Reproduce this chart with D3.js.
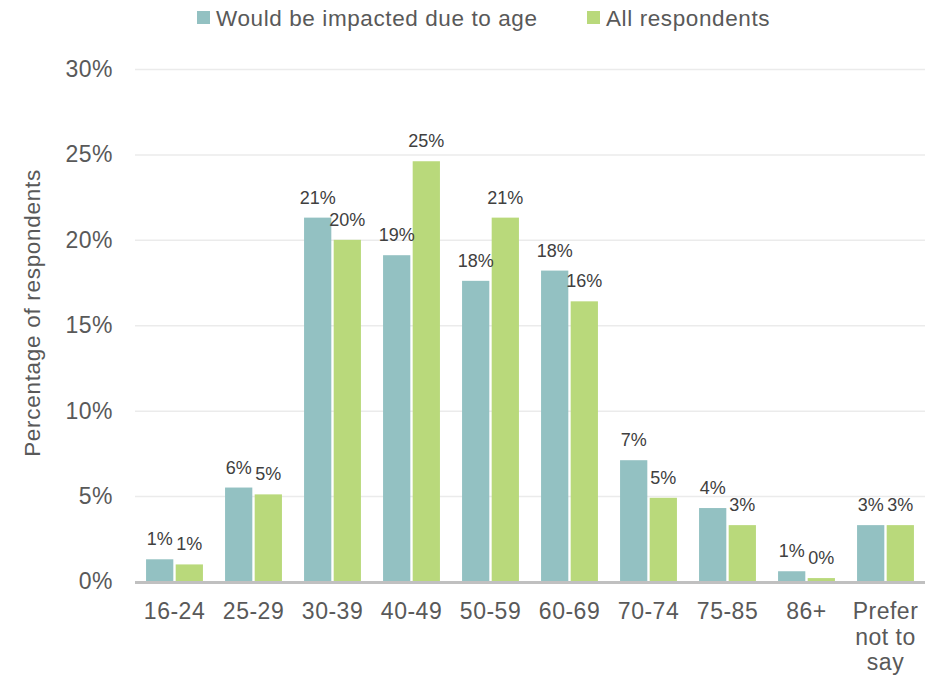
<!DOCTYPE html>
<html>
<head>
    <meta charset="utf-8">
    <script src="https://d3js.org/d3.v7.min.js"></script>
    <style>
        body { margin: 0; background: #fff; }
        text { font-family: "Liberation Sans", Arial, sans-serif; }
    </style>
</head>
<body>
    <svg id="chart"></svg>

    <script>
        // Chart values (percent of respondents)
        const categories = ["16-24", "25-29", "30-39", "40-49", "50-59", "60-69", "70-74", "75-85", "86+", "Prefer not to say"];
        const impacted = [1.3, 5.5, 21.3, 19.1, 17.6, 18.2, 7.1, 4.3, 0.6, 3.3];
        const allRespondents = [1.0, 5.1, 20.0, 24.6, 21.3, 16.4, 4.9, 3.3, 0.2, 3.3];
        const seriesNames = ["Would be impacted due to age", "All respondents"];
        const yTicks = [0, 5, 10, 15, 20, 25, 30];

        const width = 941, height = 678;
        const margin = { top: 69, right: 16, bottom: 96, left: 135 };
        const colors = ["#93c1c2", "#b9d97b"];

        const svg = d3.select("#chart")
            .attr("width", width)
            .attr("height", height);

        const series = [impacted, allRespondents];
        const data = categories.map((c, i) => ({ cat: c, values: series.map(s => s[i]) }));

        // Scales
        const x0 = d3.scaleBand()
            .domain(categories)
            .range([margin.left, width - margin.right])
            .paddingInner(0.28)
            .paddingOuter(0.14);

        const x1 = d3.scaleBand()
            .domain([0, 1])
            .range([0, x0.bandwidth()])
            .paddingInner(0.08);

        const y = d3.scaleLinear()
            .domain([0, 30])
            .range([height - margin.bottom - 0.5, margin.top]);

        // Gridlines + y tick labels
        const yAxis = svg.append("g")
            .attr("transform", `translate(${margin.left},0)`)
            .call(d3.axisLeft(y)
                .tickValues(yTicks)
                .tickSize(-(width - margin.left - margin.right))
                .tickFormat(d => d + "%")
                .tickPadding(22));
        yAxis.select(".domain").remove();
        yAxis.selectAll(".tick line").attr("stroke", "#ebebeb").attr("stroke-width", 1.5);
        yAxis.selectAll(".tick text")
            .attr("fill", "#595959")
            .style("font-size", "23px")
            .style("letter-spacing", "0.5px");

        // Y axis title
        svg.append("text")
            .attr("transform", `translate(40, 313) rotate(-90)`)
            .attr("text-anchor", "middle")
            .attr("fill", "#595959")
            .style("font-size", "22.5px")
            .style("letter-spacing", "0.7px")
            .text("Percentage of respondents");

        // Bars
        const groups = svg.append("g")
            .selectAll("g")
            .data(data)
            .join("g")
            .attr("transform", d => `translate(${x0(d.cat)},0)`);

        groups.selectAll("rect")
            .data(d => d.values.map((v, k) => ({ k, v })))
            .join("rect")
            .attr("x", d => x1(d.k))
            .attr("y", d => y(d.v))
            .attr("width", x1.bandwidth())
            .attr("height", d => y(0) - y(d.v))
            .attr("fill", d => colors[d.k]);

        // Value labels
        groups.selectAll("text.val")
            .data(d => d.values.map((v, k) => ({ k, v })))
            .join("text")
            .attr("class", "val")
            .attr("x", d => x1(d.k) + x1.bandwidth() / 2)
            .attr("y", d => y(d.v) - 14)
            .attr("text-anchor", "middle")
            .attr("fill", "#404040")
            .style("font-size", "18px")
            .text(d => Math.round(d.v) + "%");

        // X axis baseline
        svg.append("line")
            .attr("x1", margin.left)
            .attr("x2", width - margin.right)
            .attr("y1", y(0) + 1)
            .attr("y2", y(0) + 1)
            .attr("stroke", "#c0c0c0")
            .attr("stroke-width", 3);

        // Category labels, wrapped like the original
        const wrap = { "Prefer not to say": ["Prefer", "not to", "say"] };
        const xAxis = svg.append("g")
            .attr("transform", `translate(0,${y(0)})`)
            .call(d3.axisBottom(x0).tickSize(0).tickPadding(21));
        xAxis.select(".domain").remove();
        xAxis.selectAll(".tick text")
            .attr("fill", "#595959")
            .style("font-size", "23px")
            .style("letter-spacing", "0.5px")
            .each(function (d) {
                if (!wrap[d]) return;
                const t = d3.select(this).text(null);
                wrap[d].forEach((line, i) => {
                    t.append("tspan")
                        .attr("x", 0)
                        .attr("dy", i === 0 ? "0.71em" : "1.12em")
                        .text(line);
                });
                t.attr("dy", null);
            });

        // Legend
        const legendX = [197, 587];
        const legend = svg.append("g")
            .selectAll("g")
            .data(seriesNames)
            .join("g")
            .attr("transform", (d, i) => `translate(${legendX[i]},11)`);
        legend.append("rect")
            .attr("width", 13)
            .attr("height", 13)
            .attr("fill", (d, i) => colors[i]);
        legend.append("text")
            .attr("x", 19)
            .attr("y", 14.5)
            .attr("fill", "#595959")
            .style("font-size", "22.5px")
            .style("letter-spacing", "0.6px")
            .text(d => d);
    </script>
</body>
</html>
